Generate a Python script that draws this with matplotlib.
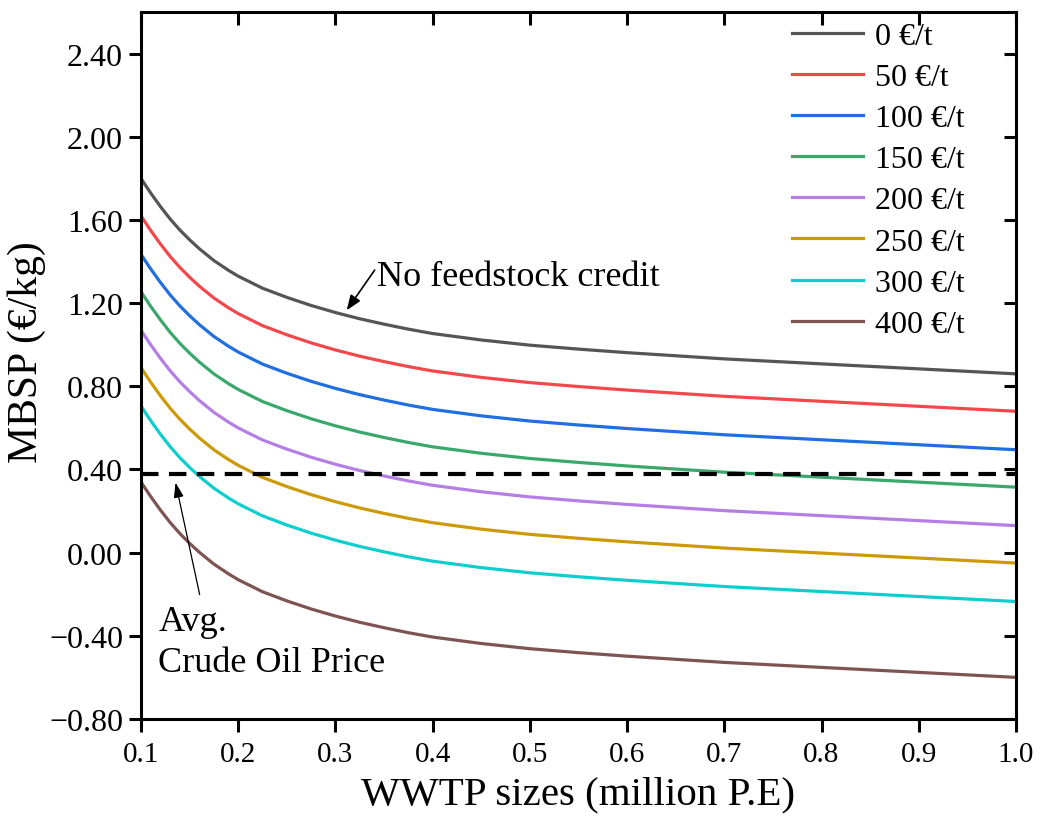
import matplotlib
matplotlib.use("Agg")
import matplotlib.pyplot as plt
import numpy as np
from matplotlib.ticker import FuncFormatter

plt.rcParams["font.family"] = ["Liberation Serif", "DejaVu Serif"]

# WWTP size (million P.E)
sizes = [0.10, 0.11, 0.12, 0.13, 0.14, 0.15, 0.16, 0.175, 0.19, 0.20, 0.225, 0.25, 0.275,
         0.30, 0.325, 0.35, 0.375, 0.40, 0.45, 0.50, 0.55, 0.60, 0.70, 0.80, 0.90, 1.00]

# MBSP (EUR/kg) for each sludge gate fee
mbsp_0 = [1.800, 1.730, 1.665, 1.605, 1.552, 1.505, 1.462, 1.405, 1.358, 1.330, 1.272, 1.228, 1.189,
          1.155, 1.125, 1.099, 1.075, 1.054, 1.023, 0.998, 0.979, 0.962, 0.932, 0.908, 0.884, 0.860]
mbsp_50 = [1.620, 1.550, 1.485, 1.425, 1.372, 1.325, 1.282, 1.225, 1.178, 1.150, 1.092, 1.048, 1.009,
           0.975, 0.945, 0.919, 0.895, 0.874, 0.843, 0.818, 0.799, 0.782, 0.752, 0.728, 0.704, 0.680]
mbsp_100 = [1.435, 1.365, 1.300, 1.240, 1.187, 1.140, 1.097, 1.040, 0.993, 0.965, 0.907, 0.863, 0.824,
            0.790, 0.760, 0.734, 0.710, 0.689, 0.658, 0.633, 0.614, 0.597, 0.567, 0.543, 0.519, 0.495]
mbsp_150 = [1.255, 1.185, 1.120, 1.060, 1.007, 0.960, 0.917, 0.860, 0.813, 0.785, 0.727, 0.683, 0.644,
            0.610, 0.580, 0.554, 0.530, 0.509, 0.478, 0.453, 0.434, 0.417, 0.387, 0.363, 0.339, 0.315]
mbsp_200 = [1.070, 1.000, 0.935, 0.875, 0.822, 0.775, 0.732, 0.675, 0.628, 0.600, 0.542, 0.498, 0.459,
            0.425, 0.395, 0.369, 0.345, 0.324, 0.293, 0.268, 0.249, 0.232, 0.202, 0.178, 0.154, 0.130]
mbsp_250 = [0.890, 0.820, 0.755, 0.695, 0.642, 0.595, 0.552, 0.495, 0.448, 0.420, 0.362, 0.318, 0.279,
            0.245, 0.215, 0.189, 0.165, 0.144, 0.113, 0.088, 0.069, 0.052, 0.022, -0.002, -0.026, -0.050]
mbsp_300 = [0.705, 0.635, 0.570, 0.510, 0.457, 0.410, 0.367, 0.310, 0.263, 0.235, 0.177, 0.133, 0.094,
            0.060, 0.030, 0.004, -0.020, -0.041, -0.072, -0.097, -0.116, -0.133, -0.163, -0.187, -0.211, -0.235]
mbsp_400 = [0.340, 0.270, 0.205, 0.145, 0.092, 0.045, 0.002, -0.055, -0.102, -0.130, -0.188, -0.232, -0.271,
            -0.305, -0.335, -0.361, -0.385, -0.406, -0.437, -0.462, -0.481, -0.498, -0.528, -0.552, -0.576, -0.600]

series = [mbsp_0, mbsp_50, mbsp_100, mbsp_150, mbsp_200, mbsp_250, mbsp_300, mbsp_400]
labels = ["0 €/t", "50 €/t", "100 €/t", "150 €/t", "200 €/t", "250 €/t", "300 €/t", "400 €/t"]
colors = ["#555555", "#f2484b", "#1f6fe0", "#3aa86b", "#b47ee5", "#cc9a06", "#0dcdcd", "#7d5452"]

crude_oil_price = 0.38

fig = plt.figure(figsize=(10.41, 8.2), dpi=100)
ax = fig.add_axes([0.1354, 0.122, 0.8406, 0.862])

for vals, lab, col in zip(series, labels, colors):
    ax.plot(sizes, vals, color=col, lw=2.3, label=lab)

ax.axhline(crude_oil_price, color="black", lw=3, dashes=(4.2, 2.5))

ax.set_xlim(0.1, 1.0)
ax.set_ylim(-0.8, 2.6)
ax.set_xticks(np.round(np.arange(0.1, 1.01, 0.1), 1))
ax.set_yticks(np.round(np.arange(-0.8, 2.41, 0.4), 2))
ax.xaxis.set_major_formatter(FuncFormatter(lambda v, p: f"{v:.1f}"))
ax.yaxis.set_major_formatter(FuncFormatter(lambda v, p: f"{v:.2f}".replace("-", "\u2212")))
ax.tick_params(axis="x", direction="out", length=9, width=2.2, labelsize=21, pad=7)
ax.tick_params(axis="y", direction="out", length=9, width=2.2, labelsize=23, pad=4)
for s in ax.spines.values():
    s.set_linewidth(2.2)

top = ax.secondary_xaxis("top")
top.set_xticks(ax.get_xticks())
top.tick_params(direction="in", length=9, width=2.2, labeltop=False)
right = ax.secondary_yaxis("right")
right.set_yticks(ax.get_yticks())
right.tick_params(direction="in", length=9, width=2.2, labelright=False)

ax.set_xlabel("WWTP sizes (million P.E)", fontsize=29.5, labelpad=6)
ax.set_ylabel("MBSP (€/kg)", fontsize=30)
ax.yaxis.set_label_coords(-0.108, 0.52)

ax.text(0.343, 1.33, "No feedstock credit", fontsize=26, va="center", ha="left")
ax.annotate("", xy=(0.31, 1.155), xytext=(0.342, 1.37),
            arrowprops=dict(arrowstyle="-|>,head_length=0.9,head_width=0.35", color="black", lw=1.2))

ax.text(0.118, -0.33, "Avg.", fontsize=26, va="center", ha="left")
ax.text(0.118, -0.527, "Crude Oil Price", fontsize=26, va="center", ha="left")
ax.annotate("", xy=(0.135, 0.35), xytext=(0.161, -0.215),
            arrowprops=dict(arrowstyle="-|>,head_length=0.9,head_width=0.3", color="black", lw=0.9))

ax.legend(loc="upper right", bbox_to_anchor=(0.963, 1.014), frameon=False, fontsize=23,
          handlelength=2.2, handletextpad=0.38, labelspacing=0.37, borderaxespad=0.2)

fig.savefig("out.png", dpi=100)
